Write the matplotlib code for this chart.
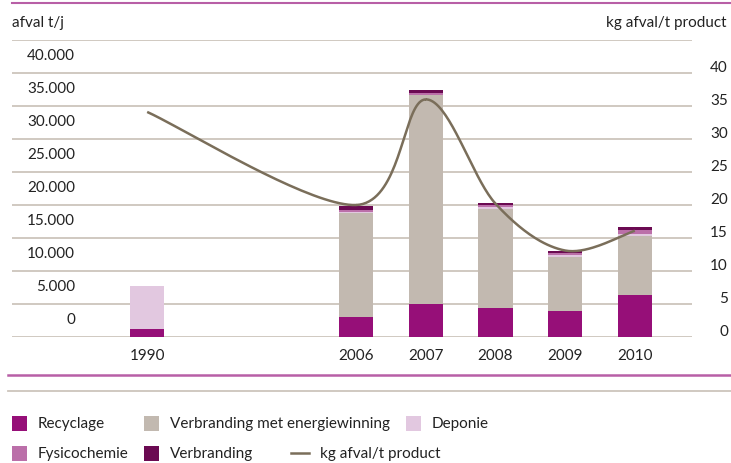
import numpy as np
import matplotlib.pyplot as plt
from matplotlib.transforms import blended_transform_factory
from matplotlib.patches import Rectangle
from matplotlib.lines import Line2D

plt.rcParams['font.family'] = ['Lato', 'DejaVu Sans']

years = ['1990', '2006', '2007', '2008', '2009', '2010']
pos = [0, 3, 4, 5, 6, 7]

# ton afval per jaar (x1000)
recyclage = [1.2, 3.1, 5.0, 4.4, 3.9, 6.4]
verbr_energie = [0.0, 15.7, 31.6, 15.0, 8.2, 8.9]
deponie = [6.5, 0.1, 0.1, 0.25, 0.4, 0.3]
fysicochemie = [0.0, 0.35, 0.3, 0.3, 0.25, 0.65]
verbranding = [0.0, 0.65, 0.4, 0.3, 0.3, 0.4]

kg_per_ton = [34.1, 20.0, 36.0, 20.2, 13.1, 16.1]

left_ticks = [0, 5, 10, 15, 20, 25, 30, 35, 40]
left_labels = ['0', '5.000', '10.000', '15.000', '20.000', '25.000', '30.000', '35.000', '40.000']
right_labels = ['0', '5', '10', '15', '20', '25', '30', '35', '40']

c_rec = '#960f78'
c_ene = '#c2b9b0'
c_dep = '#e2c8e0'
c_fys = '#bb6fa9'
c_ver = '#6b0a52'
c_line = '#7a6e5a'
c_grid = '#cdc5bc'
c_mag = '#b85fa6'
c_txt = '#222222'

W, H = 731, 464
fig = plt.figure(figsize=(W / 100, H / 100), dpi=100)
ax = fig.add_axes([12 / W, 1 - 338 / H, (692 - 12) / W, (338 - 41) / H])
ax.set_xlim(-1.94, 7.82)
ax.set_ylim(0, 45)
ax.axis('off')

for v in range(0, 50, 5):
    ax.axhline(v, color=c_grid, lw=1.3, zorder=0)

bw = 0.49
bottom = np.zeros(len(pos))
for vals, col in [(recyclage, c_rec), (verbr_energie, c_ene), (deponie, c_dep),
                  (fysicochemie, c_fys), (verbranding, c_ver)]:
    ax.bar(pos, vals, bw, bottom=bottom, color=col, zorder=2)
    bottom += np.array(vals)


# smoothed line (Catmull-Rom through the points)
def catmull(px, py, n=40):
    px = np.array(px, float)
    py = np.array(py, float)
    P = np.column_stack([px, py])
    P = np.vstack([P[0], P, P[-1]])
    out = []
    for i in range(1, len(P) - 2):
        p0, p1, p2, p3 = P[i - 1], P[i], P[i + 1], P[i + 2]
        t = np.linspace(0, 1, n)[:, None]
        seg = 0.5 * ((2 * p1) + (-p0 + p2) * t + (2 * p0 - 5 * p1 + 4 * p2 - p3) * t ** 2
                     + (-p0 + 3 * p1 - 3 * p2 + p3) * t ** 3)
        out.append(seg)
    return np.vstack(out)


curve = catmull(pos, kg_per_ton)
ax.plot(curve[:, 0], curve[:, 1], color=c_line, lw=1.8, zorder=3, solid_capstyle='butt')

# tick labels
tl = blended_transform_factory(fig.transFigure, ax.transData)
for v, lab in zip(left_ticks, left_labels):
    ax.text(75 / W, v + 2.8, lab, transform=tl, ha='right', va='center',
            fontsize=11, color=c_txt, clip_on=False)
for v, lab in zip(left_ticks, right_labels):
    ax.text(728 / W, v + 0.9, lab, transform=tl, ha='right', va='center',
            fontsize=11, color=c_txt, clip_on=False)
tb = blended_transform_factory(ax.transData, fig.transFigure)
for p, y in zip(pos, years):
    ax.text(p, 1 - 356 / H, y, transform=tb, ha='center', va='center',
            fontsize=11, color=c_txt, clip_on=False)

fig.text(12 / W, 1 - 23 / H, 'afval t/j', ha='left', va='center', fontsize=11, color=c_txt)
fig.text(727 / W, 1 - 23 / H, 'kg afval/t product', ha='right', va='center', fontsize=11, color=c_txt)

# decorative rules
fig.add_artist(Line2D([12 / W, 1], [1 - 4 / H, 1 - 4 / H], color=c_mag, lw=1.5))
fig.add_artist(Line2D([8 / W, 1], [1 - 376 / H, 1 - 376 / H], color=c_mag, lw=1.8))
fig.add_artist(Line2D([8 / W, 1], [1 - 392 / H, 1 - 392 / H], color=c_grid, lw=1.3))

# legend
legend_items = [
    ('Recyclage', c_rec, 12, 424, 'box'),
    ('Verbranding met energiewinning', c_ene, 144, 424, 'box'),
    ('Deponie', c_dep, 406, 424, 'box'),
    ('Fysicochemie', c_fys, 12, 454, 'box'),
    ('Verbranding', c_ver, 144, 454, 'box'),
    ('kg afval/t product', c_line, 291, 454, 'line'),
]
for name, col, x, y, kind in legend_items:
    if kind == 'box':
        fig.add_artist(Rectangle((x / W, 1 - (y + 8) / H), 15 / W, 15 / H,
                                 transform=fig.transFigure, color=col, lw=0))
        tx = x + 26
    else:
        fig.add_artist(Line2D([x / W, (x + 18) / W], [1 - y / H, 1 - y / H], color=col, lw=1.8))
        tx = x + 29
    fig.text(tx / W, 1 - y / H, name, ha='left', va='center', fontsize=11, color=c_txt)

fig.savefig('out.png', dpi=100)
